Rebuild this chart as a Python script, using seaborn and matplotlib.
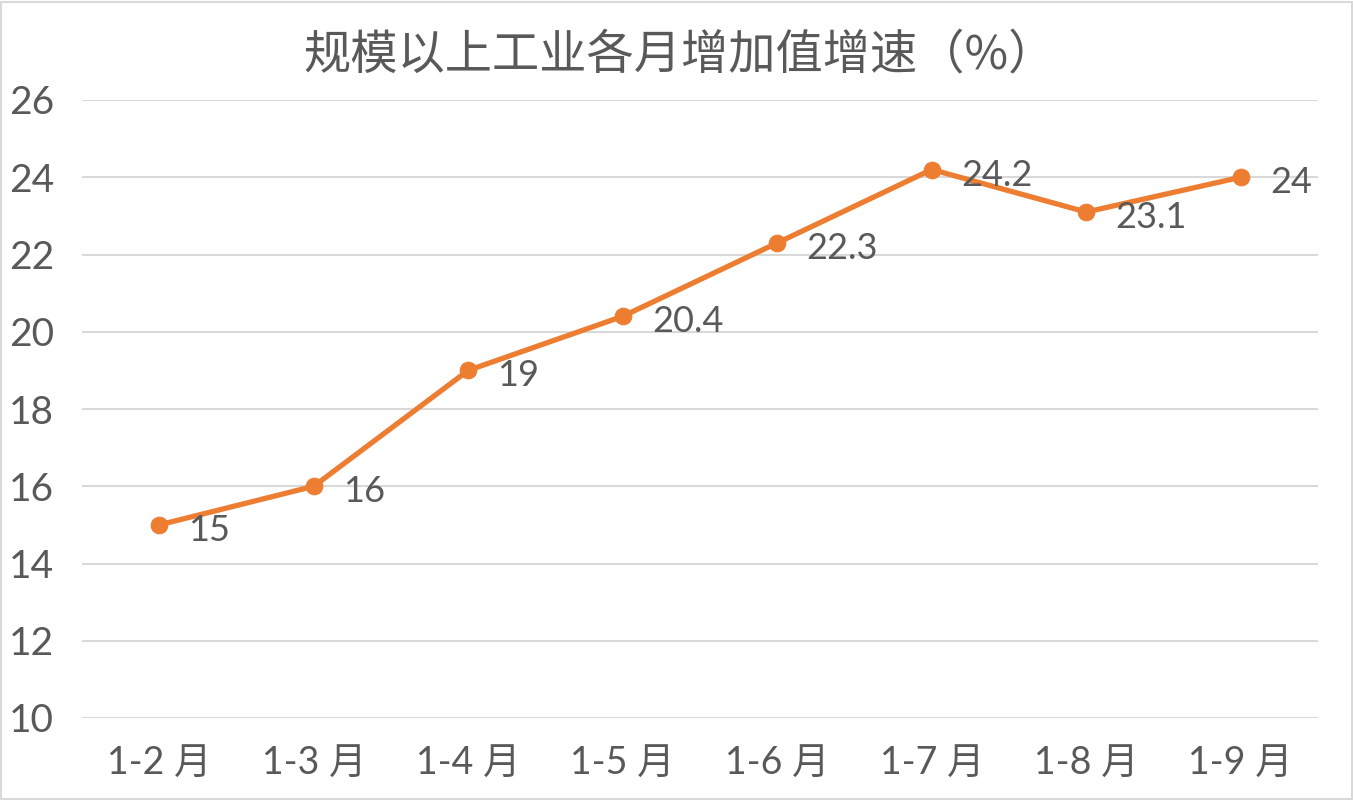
import matplotlib
matplotlib.use("Agg")
import matplotlib.pyplot as plt
import seaborn as sns
import pandas as pd
from matplotlib.patches import Rectangle

categories = ["1-2 月", "1-3 月", "1-4 月", "1-5 月", "1-6 月", "1-7 月", "1-8 月", "1-9 月"]
values = [15, 16, 19, 20.4, 22.3, 24.2, 23.1, 24]
label_texts = ["15", "16", "19", "20.4", "22.3", "24.2", "23.1", "24"]
yticks = [10, 12, 14, 16, 18, 20, 22, 24, 26]
title = "规模以上工业各月增加值增速（%）"

sns.set_theme(style="white")
plt.rcParams['font.family'] = ['Lato', 'Noto Sans CJK SC', 'DejaVu Sans']

grey = "#595959"
orange = "#ED7D31"

df = pd.DataFrame({"cat": categories, "val": values})
df["pos"] = range(len(df))

fig = plt.figure(figsize=(13.53, 8.0), dpi=100)
ax = fig.add_axes([82/1353, 1-718/800, (1318-82)/1353, (718-100)/800])

sns.lineplot(data=df, x="pos", y="val", ax=ax, color=orange, linewidth=3.8,
             marker="o", markersize=12, markeredgecolor=orange, markerfacecolor=orange)

for x, y, t in zip(df["pos"], df["val"], label_texts):
    ax.annotate(t, (x, y), xytext=(21, -4), textcoords="offset points",
                ha="left", va="center", fontsize=26, color=grey)

ax.set_xlim(-0.5, len(categories) - 0.5)
ax.set_ylim(10, 26)
ax.set_yticks(yticks)
ax.set_yticklabels([str(v) for v in yticks], fontsize=28, color=grey)
ax.set_xticks(range(len(categories)))
ax.set_xticklabels(categories, fontsize=27, color=grey)
ax.tick_params(axis="y", length=0, pad=20)
ax.tick_params(axis="x", length=0, pad=20)
ax.grid(axis="y", color="#D9D9D9", linewidth=1.5)
ax.set_axisbelow(True)
for s in ax.spines.values():
    s.set_visible(False)
ax.set_xlabel("")
ax.set_ylabel("")

fig.text(680/1353, 1-55/800, title, ha="center", va="center", fontsize=34,
         color=grey, family=['Noto Sans CJK SC', 'DejaVu Sans'], fontweight="light")

fig.patches.append(Rectangle((0.001, 0.001), 0.998, 0.997, transform=fig.transFigure,
                             fill=False, edgecolor="#D9D9D9", linewidth=1.5))

fig.savefig("out.png", dpi=100)
